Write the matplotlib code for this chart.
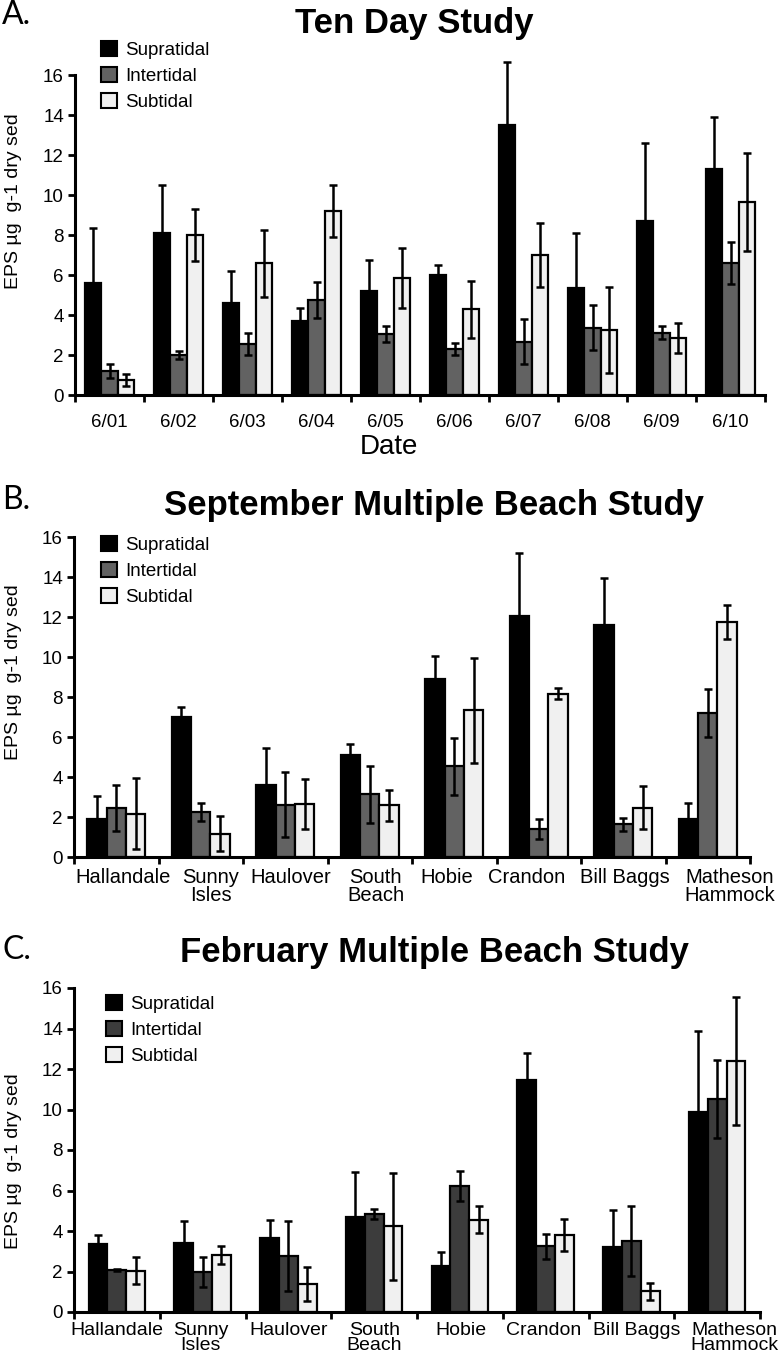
import matplotlib
matplotlib.use("Agg")
import matplotlib.pyplot as plt
from matplotlib.patches import Rectangle
import numpy as np

plt.rcParams['font.family'] = ['Liberation Sans', 'DejaVu Sans']

# ---------------- data ----------------
series_names = ["Supratidal", "Intertidal", "Subtidal"]

dates = ["6/01", "6/02", "6/03", "6/04", "6/05", "6/06", "6/07", "6/08", "6/09", "6/10"]
a_supra = [5.58, 8.1, 4.62, 3.7, 5.2, 6.0, 13.5, 5.33, 8.72, 11.28]
a_supra_err = [2.75, 2.4, 1.58, 0.63, 1.55, 0.5, 3.17, 2.75, 3.9, 2.6]
a_inter = [1.2, 2.0, 2.55, 4.75, 3.05, 2.3, 2.67, 3.37, 3.12, 6.62]
a_inter_err = [0.33, 0.2, 0.55, 0.88, 0.4, 0.32, 1.11, 1.13, 0.33, 1.05]
a_sub = [0.73, 8.0, 6.58, 9.2, 5.87, 4.28, 7.0, 3.25, 2.83, 9.67]
a_sub_err = [0.3, 1.3, 1.67, 1.3, 1.5, 1.44, 1.62, 2.17, 0.75, 2.45]

beaches = ["Hallandale", "Sunny\nIsles", "Haulover", "South\nBeach", "Hobie",
           "Crandon", "Bill Baggs", "Matheson\nHammock"]
b_supra = [1.88, 7.0, 3.58, 5.12, 8.88, 12.03, 11.58, 1.92]
b_supra_err = [1.17, 0.5, 1.89, 0.51, 1.17, 3.19, 2.37, 0.78]
b_inter = [2.45, 2.25, 2.62, 3.13, 4.53, 1.42, 1.63, 7.2]
b_inter_err = [1.17, 0.45, 1.63, 1.42, 1.42, 0.5, 0.34, 1.22]
b_sub = [2.17, 1.17, 2.63, 2.58, 7.33, 8.17, 2.47, 11.75]
b_sub_err = [1.78, 0.86, 1.25, 0.79, 2.62, 0.28, 1.08, 0.83]

c_supra = [3.36, 3.42, 3.65, 4.69, 2.26, 11.44, 3.21, 9.86]
c_supra_err = [0.46, 1.09, 0.91, 2.21, 0.7, 1.35, 1.84, 4.03]
c_inter = [2.06, 1.96, 2.78, 4.84, 6.21, 3.24, 3.49, 10.52]
c_inter_err = [0.04, 0.74, 1.73, 0.26, 0.74, 0.61, 1.73, 1.94]
c_sub = [2.04, 2.83, 1.38, 4.23, 4.56, 3.82, 1.02, 12.38]
c_sub_err = [0.66, 0.45, 0.83, 2.63, 0.66, 0.79, 0.41, 3.16]

yticks = [0, 2, 4, 6, 8, 10, 12, 14, 16]
ylabel = "EPS µg  g-1 dry sed"

# horizontal nudges (pixels) of category labels, layout only
a_label_nudge = [0] * 10
b_label_nudge = [7, 10, 6, 6, -7, -12, 2, 22]
c_label_nudge = [0, -2, 0, 0, 1, -2, 5, 17]

# ---------------- layout ----------------
W, H = 780, 1355
fig = plt.figure(figsize=(W / 100, H / 100), dpi=100)


def fx(x):
    return x / W


def fy(y):
    return 1 - y / H


def panel(left, right, y0, y16, cats, s, i, b, se, ie, be, grey, bw, label_pad,
          tick_fs, ls, nudge, ylab_y, letter, letter_y, title, title_x,
          title_base, leg_x, leg_top):
    ax = fig.add_axes([fx(left), fy(y0), (right - left) / W, (y0 - y16) / H])
    n = len(cats)
    x = np.arange(n)
    cat_px = (right - left) / n
    cols = ["black", grey, "#f0f0f0"]
    vals = [s, i, b]
    errs = [se, ie, be]
    for k in range(3):
        pos = x + (k - 1) * bw
        ax.bar(pos, vals[k], width=bw, color=cols[k], edgecolor="black",
               linewidth=1.6, zorder=2)
        eb = ax.errorbar(pos, vals[k], yerr=errs[k], fmt="none", ecolor="black",
                         elinewidth=1.8, capsize=3, capthick=1.8, zorder=3)
        for art in eb.lines[1]:
            art.set_clip_on(False)
        for art in eb.lines[2]:
            art.set_clip_on(False)
    ax.set_xlim(-0.5, n - 0.5)
    ax.set_ylim(0, 16)
    ax.set_yticks(yticks)
    ax.set_yticklabels([str(t) for t in yticks], fontsize=13.5)
    ax.set_xticks(np.arange(n + 1) - 0.5)
    ax.set_xticklabels([])
    ax.set_xticks(x + np.array(nudge) / cat_px, minor=True)
    ax.set_xticklabels(cats, minor=True, fontsize=tick_fs, linespacing=ls)
    ax.tick_params(axis="x", which="major", direction="out", length=5, width=2)
    ax.tick_params(axis="x", which="minor", length=0, pad=label_pad)
    ax.tick_params(axis="y", direction="out", length=5, width=2, pad=3)
    for sp in ["top", "right"]:
        ax.spines[sp].set_visible(False)
    for sp in ["left", "bottom"]:
        ax.spines[sp].set_linewidth(2.2)
    fig.text(fx(14), fy(ylab_y), ylabel, fontsize=14, rotation=90,
             ha="center", va="center")
    handles = [Rectangle((0, 0), 1, 1, facecolor=c, edgecolor="black", linewidth=1.5)
               for c in cols]
    ax.legend(handles, series_names, loc="upper left",
              bbox_to_anchor=(fx(leg_x), fy(leg_top)), bbox_transform=fig.transFigure,
              frameon=False, fontsize=13.5, handlelength=0.85, handleheight=0.85,
              handletextpad=0.45, labelspacing=0.42, borderpad=0, borderaxespad=0)
    fig.text(fx(2), fy(letter_y), letter, fontsize=23, family=["Lato", "DejaVu Sans"],
             ha="left", va="center")
    fig.text(fx(title_x), fy(title_base), title, fontsize=25, fontweight="bold",
             ha="center", va="baseline")
    return ax


axA = panel(75, 765, 395, 75, dates, a_supra, a_inter, a_sub,
            a_supra_err, a_inter_err, a_sub_err, "#626262", 0.235, 14, 13.5, 1.0,
            a_label_nudge, 201, "A.", 15, "Ten Day Study", 414, 33, 101, 41)
axB = panel(74, 750, 857, 537, beaches, b_supra, b_inter, b_sub,
            b_supra_err, b_inter_err, b_sub_err, "#626262", 0.23, 8, 14.5, 0.95,
            b_label_nudge, 672, "B.", 500, "September Multiple Beach Study", 434, 515,
            101, 536)
axC = panel(74, 760, 1312, 988, beaches, c_supra, c_inter, c_sub,
            c_supra_err, c_inter_err, c_sub_err, "#3c3c3c", 0.22, 7, 14, 0.88,
            c_label_nudge, 1161, "C.", 950, "February Multiple Beach Study", 435, 962,
            106, 995)

fig.text(fx(389), fy(447), "Date", fontsize=20, ha="center", va="center")

fig.savefig("out.png", dpi=100)
